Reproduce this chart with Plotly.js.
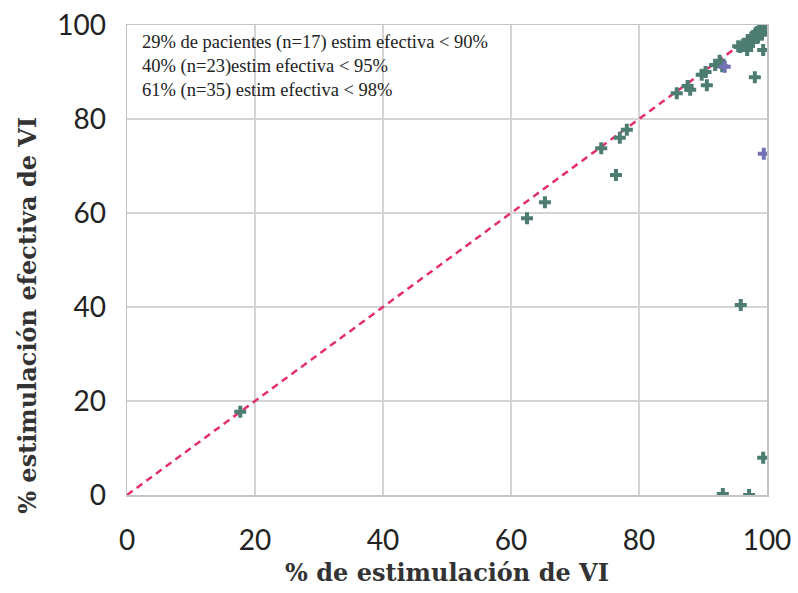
<!DOCTYPE html>
<html>
<head>
<meta charset="utf-8">
<script src="https://cdn.plot.ly/plotly-3.0.1.min.js"></script>
<style>html,body{margin:0;padding:0;background:#fff;}#chart{width:798px;height:593px;}</style>
</head>
<body>
<div id="chart"></div>
<script>
// % de estimulación de VI (x) vs % estimulación efectiva de VI (y)
const pacX = [17.7, 62.5, 65.3, 74.1, 76.4, 77.0, 78.1, 85.9, 88.0, 87.6, 90.6, 89.8, 98.1, 95.9, 99.4, 93.1, 97.2,
              90.4, 91.9, 93.0, 96.9, 99.4, 92.6,
              95.8, 97.8, 96.2, 98.6, 97.3, 99.2, 96.5, 97.0, 95.5, 97.6, 98.0, 97.8,
              98.2, 98.5, 98.8, 99.0, 99.2, 99.4, 99.5, 99.6, 99.7, 99.8, 99.9, 100, 100, 99.3, 98.9, 99.1, 99.6, 99.8, 100, 98.4, 99.0, 99.7];
const pacY = [17.7, 58.9, 62.3, 73.8, 68.1, 76.0, 77.7, 85.5, 86.2, 87.0, 87.2, 89.4, 88.9, 40.4, 7.9, 0.2, 0.0,
              90.0, 91.5, 91.2, 94.7, 94.7, 92.4,
              95.3, 96.4, 95.7, 97.4, 96.4, 97.9, 96.0, 96.8, 95.5, 97.2, 97.5, 97.0,
              98.2, 98.5, 98.8, 99.0, 99.2, 99.4, 99.5, 99.6, 99.7, 99.8, 99.9, 100, 99.6, 99.3, 98.9, 99.1, 99.6, 99.8, 99.9, 98.4, 99.0, 99.7];
const violetX = [99.5, 93.4];
const violetY = [72.6, 91.1];
const identX = [0, 100];
const identY = [0, 100];
const tickVals = [0, 20, 40, 60, 80, 100];
const xTitle = "% de estimulación de VI";
const yTitle = "% estimulación efectiva de VI";
const noteLines = [
  "29% de pacientes (n=17) estim efectiva < 90%",
  "40% (n=23)estim efectiva < 95%",
  "61% (n=35) estim efectiva < 98%"
];

const traces = [
  {x: identX, y: identY, mode: "lines", type: "scatter", hoverinfo: "skip",
   line: {color: "#e3306a", width: 2.5, dash: "7px,5px"}},
  {x: pacX, y: pacY, mode: "markers", type: "scatter",
   marker: {symbol: "cross", size: 10, color: "#4d7d72", line: {width: 0}}},
  {x: violetX, y: violetY, mode: "markers", type: "scatter",
   marker: {symbol: "cross", size: 10, color: "#7272b4", line: {width: 0}}}
];

const axisCommon = {
  range: [0, 100], tickvals: tickVals, showgrid: true, gridcolor: "#d4d4d4", gridwidth: 1.5,
  zeroline: false, showline: true, linecolor: "#c4c4c4", linewidth: 1.5, mirror: true,
  ticks: "outside", tickcolor: "rgba(0,0,0,0)",
  tickfont: {family: "Lato, 'Open Sans', sans-serif", size: 28, color: "#222"}
};

const titleFont = {family: "'DejaVu Serif', serif", size: 24, color: "#333", weight: "bold"};

const layout = {
  width: 798, height: 593,
  margin: {l: 127, r: 31, t: 25, b: 98},
  paper_bgcolor: "#fff", plot_bgcolor: "#fff",
  showlegend: false,
  xaxis: Object.assign({}, axisCommon, {ticklen: 20,
    title: {text: xTitle, standoff: 9, font: titleFont}}),
  yaxis: Object.assign({}, axisCommon, {ticklen: 14}),
  annotations: [
    {xref: "paper", yref: "paper", x: 0.02, y: 0.99, xanchor: "left", yanchor: "top",
     showarrow: false, align: "left",
     text: noteLines.join("<br>"),
     font: {family: "'Liberation Serif', serif", size: 18.5, color: "#222"}},
    {xref: "paper", yref: "paper", x: -0.155, y: 0.383, xanchor: "center", yanchor: "middle",
     showarrow: false, textangle: -90, text: yTitle, font: titleFont}
  ]
};

Plotly.newPlot("chart", traces, layout, {displayModeBar: false, staticPlot: true});
</script>
</body>
</html>
